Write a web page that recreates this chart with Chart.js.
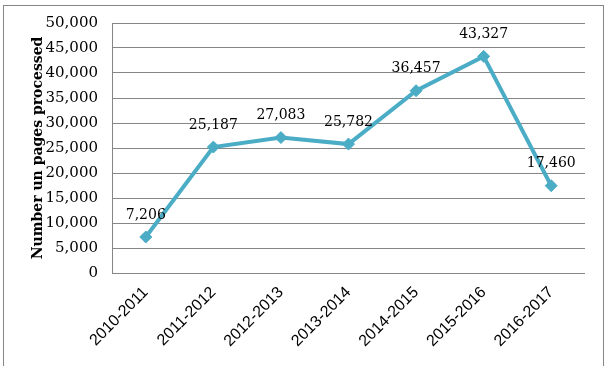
<!DOCTYPE html>
<html>
<head>
<meta charset="utf-8">
<script src="https://cdn.jsdelivr.net/npm/chart.js@4/dist/chart.umd.min.js"></script>
<style>
  html, body { margin: 0; padding: 0; background: #fff; }
  #wrap { position: relative; width: 610px; height: 371px; overflow: hidden; }
  #frame {
    position: absolute; left: 3px; top: 5px; width: 599px; height: 360px;
    border: 1px solid #868686; border-bottom: none;
  }
  canvas { position: absolute; left: 0; top: 0; }
</style>
</head>
<body>
<div id="wrap">
  <div id="frame"></div>
  <canvas id="chart" width="610" height="371"></canvas>
</div>
<script>
const years = ['2010-2011', '2011-2012', '2012-2013', '2013-2014', '2014-2015', '2015-2016', '2016-2017'];
const pages = [7206, 25187, 27083, 25782, 36457, 43327, 17460];
const yTicks = [0, 5000, 10000, 15000, 20000, 25000, 30000, 35000, 40000, 45000, 50000];

const fmt = new Intl.NumberFormat('en-US');
const lineColor = '#4BACC6';
const gridColor = '#868686';
const serif = '"DejaVu Serif", serif';
const sans = '"Liberation Sans", Arial, sans-serif';

// value labels above each marker
const valueLabels = {
  id: 'valueLabels',
  afterDatasetsDraw(chart) {
    const { ctx } = chart;
    const meta = chart.getDatasetMeta(0);
    ctx.save();
    ctx.font = '14px ' + serif;
    ctx.fillStyle = '#000';
    ctx.textAlign = 'center';
    ctx.textBaseline = 'middle';
    meta.data.forEach((pt, i) => {
      ctx.fillText(fmt.format(pages[i]), pt.x, pt.y - 22);
    });
    ctx.restore();
  },
};

new Chart(document.getElementById('chart'), {
  type: 'line',
  data: {
    labels: years,
    datasets: [{
      data: pages,
      borderColor: lineColor,
      backgroundColor: lineColor,
      borderWidth: 4,
      pointStyle: 'rectRot',
      pointRadius: 6,
      pointBorderWidth: 1,
      tension: 0,
      fill: false,
    }],
  },
  options: {
    responsive: false,
    animation: false,
    layout: { padding: { left: 30, right: 25, top: 23, bottom: 6 } },
    plugins: {
      legend: { display: false },
      tooltip: { enabled: false },
    },
    scales: {
      x: {
        offset: true,
        grid: { display: false, drawTicks: false },
        border: { display: false },
        ticks: {
          color: '#000',
          font: { family: sans, size: 16 },
          minRotation: 45,
          maxRotation: 45,
          padding: 10,
        },
        afterFit(scale) { scale.height = 371 - 273 - 6; },
      },
      y: {
        min: 0,
        max: 50000,
        afterBuildTicks(scale) { scale.ticks = yTicks.map((v) => ({ value: v })); },
        grid: { color: gridColor, lineWidth: 1, drawTicks: false },
        border: { display: true, color: gridColor, width: 1 },
        ticks: {
          color: '#000',
          font: { family: serif, size: 15 },
          padding: 14,
          callback(value) { return fmt.format(value); },
        },
        title: {
          display: true,
          text: 'Number un pages processed',
          color: '#000',
          font: { family: serif, size: 14, weight: 'bold' },
          padding: { top: 0, bottom: 4 },
        },
        afterFit(scale) { scale.width = 112 - 30; },
      },
    },
  },
  plugins: [valueLabels],
});
</script>
</body>
</html>
